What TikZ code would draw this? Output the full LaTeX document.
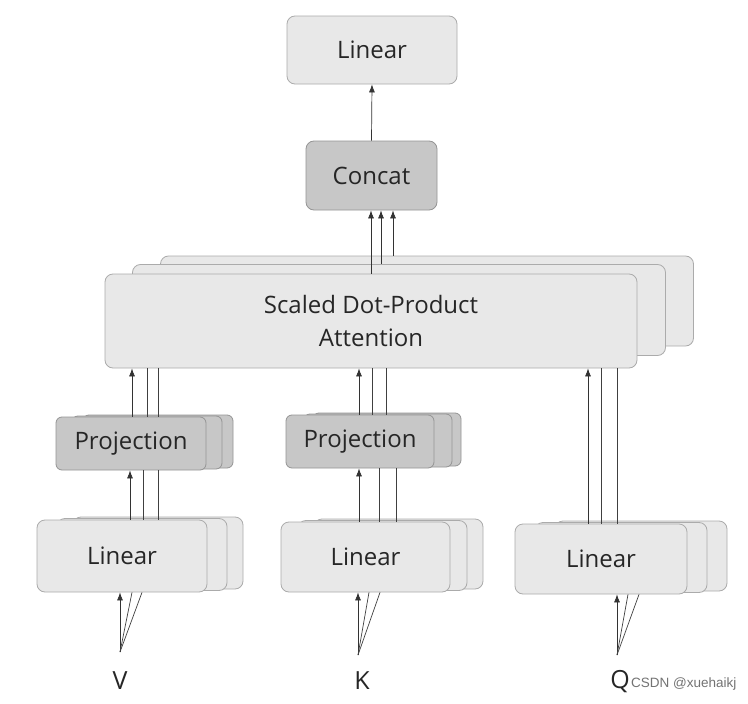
\documentclass[tikz,border=0pt]{standalone}
\usepackage{fontspec}
\setmainfont{Open Sans}
\newfontfamily\wmfont{Liberation Sans}
\usetikzlibrary{arrows.meta,calc}
\begin{document}
\begin{tikzpicture}[x=1pt,y=-1pt,
  lightbox/.style={draw=black!33, fill=black!9, rounded corners=8pt, line width=0.8pt,
    text=black!85, font=\fontsize{24}{33}\selectfont, inner sep=0pt, align=center},
  darkbox/.style={lightbox, fill=black!22, draw=black!42},
  arr/.style={-{Latex[length=8pt,width=6pt]}, draw=black!80, line width=0.7pt},
  ln/.style={draw=black!75, line width=0.7pt},
  lab/.style={font=\fontsize{25}{28}\selectfont, text=black!85, inner sep=0pt}]
\useasboundingbox[fill=white] (0,0) rectangle (748,704);

% ---------- top ----------
\node[lightbox, minimum width=170pt, minimum height=68pt] (top) at (372,50) {Linear};
\node[darkbox, minimum width=131pt, minimum height=69pt] (concat) at (371.5,175.5) {Concat};

% ---------- attention stack ----------
\node[lightbox, minimum width=533pt, minimum height=90pt] (attC) at (427,301) {};
\node[lightbox, minimum width=533pt, minimum height=91pt] (attB) at (399,310) {};
\node[lightbox, minimum width=532pt, minimum height=94pt] (attA) at (371,321) {Scaled Dot-Product\\Attention};

% ---------- projections ----------
\node[darkbox, rounded corners=6pt, minimum width=150pt, minimum height=53pt] (pL3) at (158,441.5) {};
\node[darkbox, rounded corners=6pt, minimum width=150pt, minimum height=53pt] (pL2) at (147,442.5) {};
\node[darkbox, rounded corners=6pt, minimum width=150pt, minimum height=53pt] (pL1) at (131,443.5) {Projection};

\node[darkbox, rounded corners=6pt, minimum width=148pt, minimum height=53pt] (pM3) at (387,439.5) {};
\node[darkbox, rounded corners=6pt, minimum width=148pt, minimum height=53pt] (pM2) at (378,440.5) {};
\node[darkbox, rounded corners=6pt, minimum width=148pt, minimum height=53pt] (pM1) at (360,441.5) {Projection};

% ---------- linear stacks ----------
\node[lightbox, minimum width=170pt, minimum height=72pt] (lL3) at (158,553) {};
\node[lightbox, minimum width=170pt, minimum height=72pt] (lL2) at (142,554.5) {};
\node[lightbox, minimum width=170pt, minimum height=72pt] (lL1) at (122,556) {Linear};

\node[lightbox, minimum width=169pt, minimum height=70pt] (lM3) at (398.5,554) {};
\node[lightbox, minimum width=169pt, minimum height=70pt] (lM2) at (382.5,555.5) {};
\node[lightbox, minimum width=169pt, minimum height=70pt] (lM1) at (365.5,557) {Linear};

\node[lightbox, minimum width=172pt, minimum height=70pt] (lR3) at (641,556) {};
\node[lightbox, minimum width=172pt, minimum height=70pt] (lR2) at (621,557.5) {};
\node[lightbox, minimum width=172pt, minimum height=70pt] (lR1) at (601,559) {Linear};

% ---------- labels ----------
\node[lab] (V) at (120,681) {V};
\node[lab] (K) at (362,681) {K};
\node[lab] (Q) at (620,682) {Q};
\node[anchor=west, inner sep=0pt, text=black!55, font=\wmfont\fontsize{13.5}{16}\selectfont] (wm) at (631,684) {CSDN @xuehaikj};

% ---------- x positions ----------
\coordinate (c1) at (371,0); \coordinate (c2) at (381,0); \coordinate (c3) at (393,0);
\coordinate (a1) at (130,0); \coordinate (a2) at (143,0); \coordinate (a3) at (158,0);
\coordinate (b1) at (132,0); \coordinate (b2) at (147,0); \coordinate (b3) at (158,0);
\coordinate (d1) at (359,0); \coordinate (d2) at (379,0); \coordinate (d3) at (396,0);
\coordinate (e1) at (359,0); \coordinate (e2) at (372,0); \coordinate (e3) at (386,0);
\coordinate (f1) at (588,0); \coordinate (f2) at (601,0); \coordinate (f3) at (617,0);
\coordinate (g1) at (120,0); \coordinate (g2) at (132,0); \coordinate (g3) at (142,0);
\coordinate (h1) at (358,0); \coordinate (h2) at (369,0); \coordinate (h3) at (380,0);
\coordinate (k1) at (617,0); \coordinate (k2) at (628,0); \coordinate (k3) at (639,0);
\coordinate (vpt) at (120,652);
\coordinate (kpt) at (358,655);
\coordinate (qpt) at (617,655);

% ---------- connectors ----------
\draw[arr] (concat.north) -- (top.south);
\draw[arr] (attA.north -| c1) -- (concat.south -| c1);
\draw[arr] (attB.north -| c2) -- (concat.south -| c2);
\draw[arr] (attC.north -| c3) -- (concat.south -| c3);

% left
\draw[arr] (lL1.north -| a1) -- (pL1.south -| a1);
\draw[ln]  (lL1.north -| a2) -- (pL1.south -| a2);
\draw[ln]  (lL1.north -| a3) -- (pL1.south -| a3);
\draw[arr] (pL1.north -| b1) -- (attA.south -| b1);
\draw[ln]  (pL1.north -| b2) -- (attA.south -| b2);
\draw[ln]  (pL1.north -| b3) -- (attA.south -| b3);

% middle
\draw[arr] (lM1.north -| d1) -- (pM1.south -| d1);
\draw[ln]  (lM1.north -| d2) -- (pM1.south -| d2);
\draw[ln]  (lM1.north -| d3) -- (pM1.south -| d3);
\draw[arr] (pM1.north -| e1) -- (attA.south -| e1);
\draw[ln]  (pM1.north -| e2) -- (attA.south -| e2);
\draw[ln]  (pM1.north -| e3) -- (attA.south -| e3);

% right
\draw[arr] (lR1.north -| f1) -- (attA.south -| f1);
\draw[ln]  (lR1.north -| f2) -- (attA.south -| f2);
\draw[ln]  (lR1.north -| f3) -- (attA.south -| f3);

% inputs
\draw[arr] (vpt) -- (lL1.south -| g1);
\draw[ln]  (vpt) -- (lL1.south -| g2);
\draw[ln]  (vpt) -- (lL1.south -| g3);
\draw[arr] (kpt) -- (lM1.south -| h1);
\draw[ln]  (kpt) -- (lM1.south -| h2);
\draw[ln]  (kpt) -- (lM1.south -| h3);
\draw[arr] (qpt) -- (lR1.south -| k1);
\draw[ln]  (qpt) -- (lR1.south -| k2);
\draw[ln]  (qpt) -- (lR1.south -| k3);
\end{tikzpicture}
\end{document}
